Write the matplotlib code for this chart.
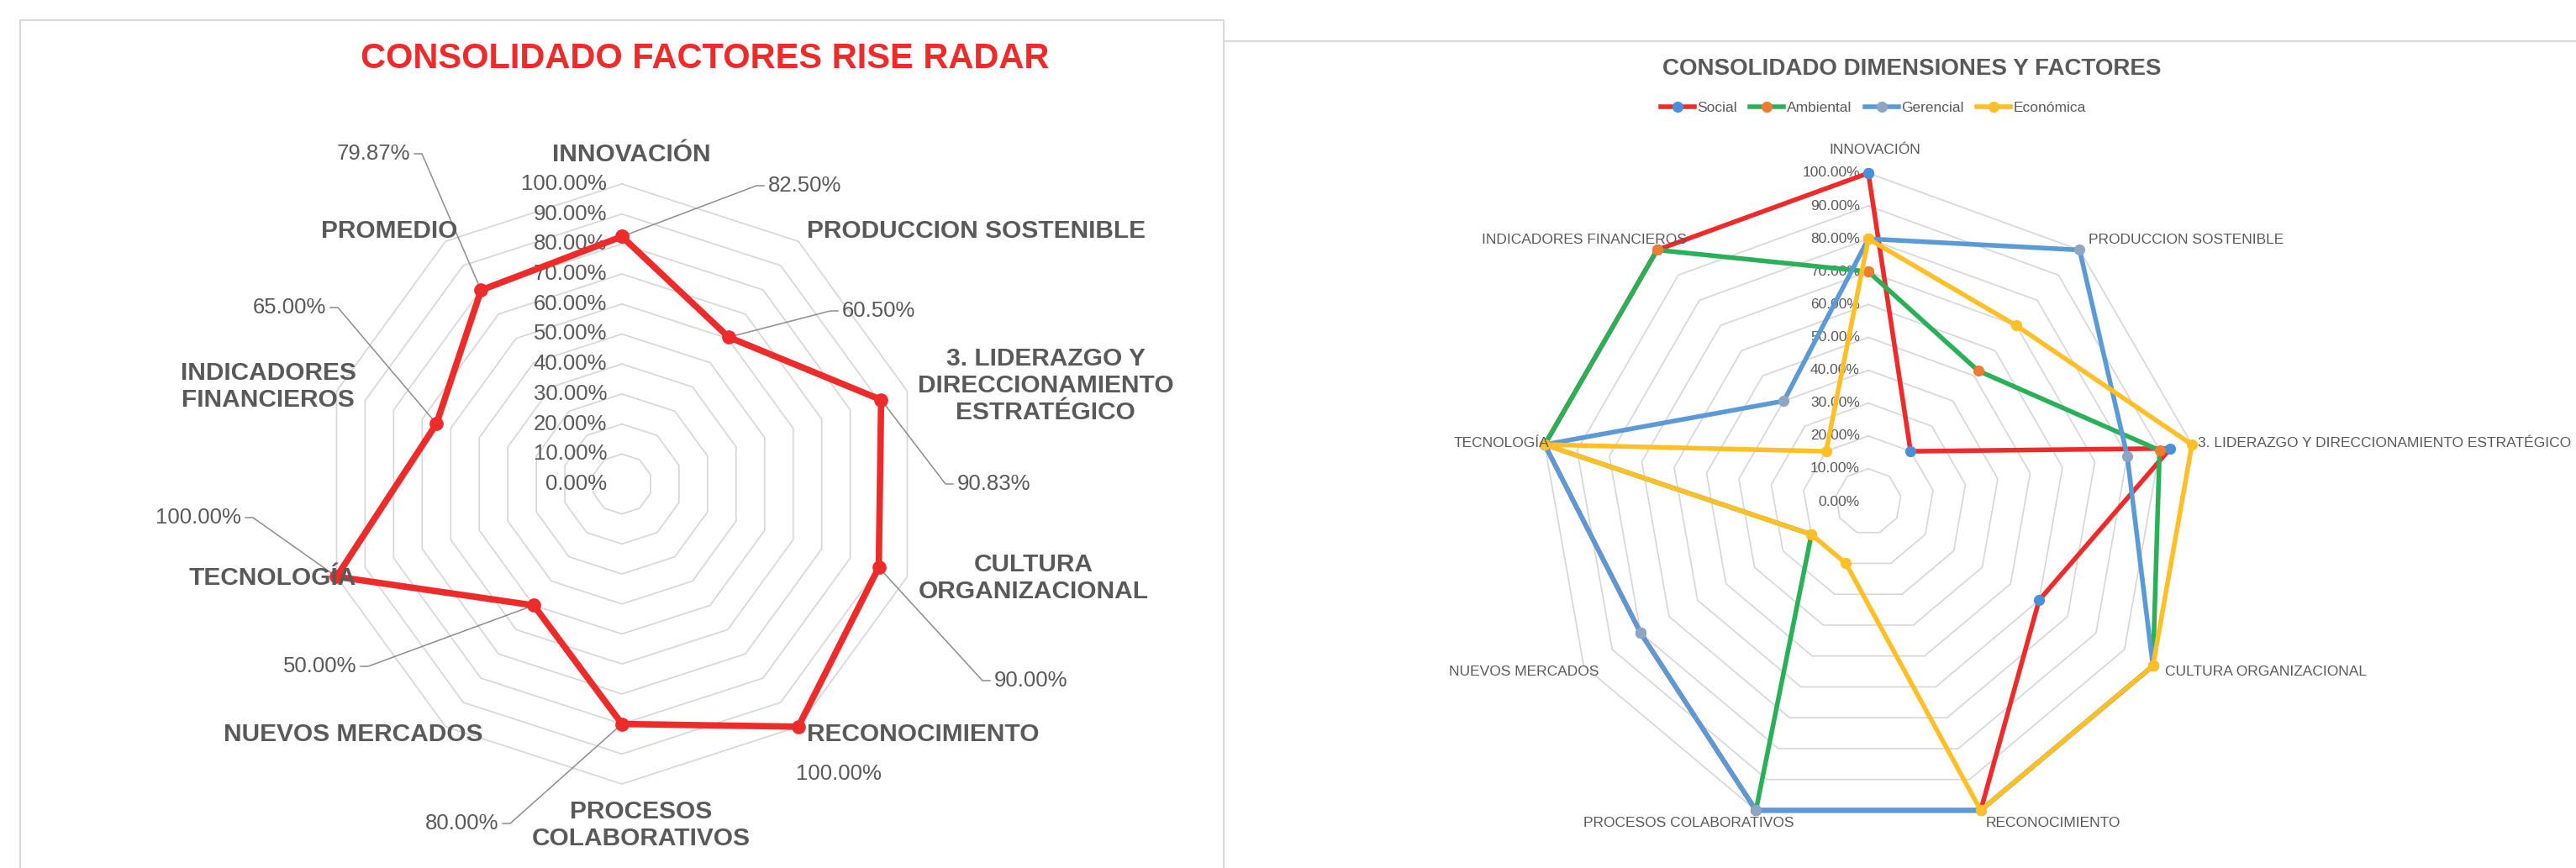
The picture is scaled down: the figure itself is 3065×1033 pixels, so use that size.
import numpy as np
import matplotlib
matplotlib.use('Agg')
import matplotlib.pyplot as plt
from matplotlib.patches import Rectangle
from matplotlib.lines import Line2D

plt.rcParams['font.family'] = ['Liberation Sans', 'DejaVu Sans']

W, H = 3065, 1033

# ---------------- data ----------------
left_cats = ['INNOVACIÓN', 'PRODUCCION SOSTENIBLE',
             '3. LIDERAZGO Y\nDIRECCIONAMIENTO\nESTRATÉGICO',
             'CULTURA\nORGANIZACIONAL', 'RECONOCIMIENTO',
             'PROCESOS\nCOLABORATIVOS', 'NUEVOS MERCADOS', 'TECNOLOGÍA',
             'INDICADORES\nFINANCIEROS', 'PROMEDIO']
left_values = [82.50, 60.50, 90.83, 90.00, 100.00, 80.00, 50.00, 100.00, 65.00, 79.87]

ring_ticks = [0, 10, 20, 30, 40, 50, 60, 70, 80, 90, 100]

right_cats = ['INNOVACIÓN', 'PRODUCCION SOSTENIBLE',
              '3. LIDERAZGO Y DIRECCIONAMIENTO ESTRATÉGICO',
              'CULTURA ORGANIZACIONAL', 'RECONOCIMIENTO',
              'PROCESOS COLABORATIVOS', 'NUEVOS MERCADOS', 'TECNOLOGÍA',
              'INDICADORES FINANCIEROS']
series_names = ['Social', 'Ambiental', 'Gerencial', 'Económica']
social    = [100, 20, 93.33, 60, 100, 100, 80, 100, 100]
ambiental = [70, 52, 90, 100, 100, 100, 20, 100, 100]
gerencial = [80, 100, 80, 100, 100, 100, 80, 100, 40]
economica = [80, 70, 100, 100, 100, 20, 20, 100, 20]

# ---------------- styles / layout (pixels) ----------------
TXT = '#595959'
GRID = '#d6d6d6'
RED = '#ee2b2b'
line_colors = ['#ee2b2b', '#2bb05a', '#5b9bd5', '#ffbf27']
marker_colors = ['#4a90d9', '#ed7d31', '#8fa5c4', '#ffbf27']

L_CX, L_CY, L_R = 740, 576, 357
R_CX, R_CY, R_R = 2223, 597, 391

left_label_pos = [(751, 184, 'center'), (960, 275, 'left'), (1244, 459, 'center'),
                  (1230, 688, 'center'), (960, 874, 'left'), (763, 982, 'center'),
                  (574, 874, 'right'), (424, 688, 'right'), (319, 460, 'center'),
                  (544, 275, 'right')]
# data label anchors: x, y, ha, draw leader?
left_dlabel_pos = [(914, 221, 'left', True), (1002, 370, 'left', True),
                   (1139, 576, 'left', True), (1183, 810, 'left', True),
                   (998, 921, 'center', False), (593, 980, 'right', True),
                   (424, 793, 'right', True), (287, 616, 'right', True),
                   (388, 366, 'right', True), (488, 183, 'right', True)]
right_label_pos = [(2231, 178, 'center'), (2485, 285, 'left'), (2615, 527, 'left'),
                   (2576, 800, 'left'), (2363, 980, 'left'), (2134, 980, 'right'),
                   (1902, 800, 'right'), (1843, 527, 'right'), (2007, 285, 'right')]

fig = plt.figure(figsize=(W / 100, H / 100), dpi=100)


def make_axes(cx, cy, R):
    ax = fig.add_axes([0, 0, 1, 1])
    ax.set_xlim(-cx / R, (W - cx) / R)
    ax.set_ylim(-(H - cy) / R, cy / R)
    ax.axis('off')
    ax.patch.set_alpha(0)
    return ax


def to_data(cx, cy, R, x, y):
    return (x - cx) / R, (cy - y) / R


def draw_rings(ax, n):
    th = np.pi / 2 - 2 * np.pi * np.arange(n + 1) / n
    for t in ring_ticks[1:]:
        r = t / 100
        ax.plot(r * np.cos(th), r * np.sin(th), color=GRID, lw=1.2, zorder=1)
    return th


# ---------------- frames ----------------
fig.add_artist(Rectangle((24 / W, -0.05), (1456 - 24) / W, 1.05 - 24 / H,
                         transform=fig.transFigure, fill=False,
                         edgecolor='#d9d9d9', lw=1.5))
fig.add_artist(Line2D([1456 / W, 1], [1 - 49 / H, 1 - 49 / H],
                      transform=fig.transFigure, color='#d9d9d9', lw=1.5))

# ---------------- left radar ----------------
axl = make_axes(L_CX, L_CY, L_R)
n = len(left_cats)
th = draw_rings(axl, n)
vals = np.array(left_values + left_values[:1]) / 100
axl.plot(vals * np.cos(th), vals * np.sin(th), color=RED, lw=5.5, zorder=3,
         marker='o', markersize=11, solid_joinstyle='round')

for t in ring_ticks:
    x, _ = to_data(L_CX, L_CY, L_R, 722, 0)
    axl.text(x, t / 100, f'{t:.2f}%', ha='right', va='center',
             fontsize=18.5, color=TXT, zorder=2)

for cat, (x, y, ha) in zip(left_cats, left_label_pos):
    dx, dy = to_data(L_CX, L_CY, L_R, x, y)
    axl.text(dx, dy, cat, ha=ha, va='center', multialignment='center',
             fontsize=21.5, fontweight='bold', color=TXT, linespacing=1.17, zorder=4)

for i, (v, (x, y, ha, leader)) in enumerate(zip(left_values, left_dlabel_pos)):
    dx, dy = to_data(L_CX, L_CY, L_R, x, y)
    axl.text(dx, dy, f'{v:.2f}%', ha=ha, va='center', fontsize=18.5,
             color=TXT, zorder=4)
    if leader:
        px_, py_ = v / 100 * np.cos(th[i]), v / 100 * np.sin(th[i])
        sgn = -1 if ha == 'left' else 1
        kx, ky = to_data(L_CX, L_CY, L_R, x + sgn * 14, y)
        ex, ey = to_data(L_CX, L_CY, L_R, x + sgn * 5, y)
        axl.plot([px_, kx, ex], [py_, ky, ey], color='#8c8c8c', lw=1.1, zorder=2)

tx, ty = to_data(L_CX, L_CY, L_R, 839, 70)
axl.text(tx, ty, 'CONSOLIDADO FACTORES RISE RADAR', ha='center', va='center',
         fontsize=30, fontweight='bold', color=RED)

# ---------------- right radar ----------------
axr = make_axes(R_CX, R_CY, R_R)
n = len(right_cats)
th = draw_rings(axr, n)
handles = []
for name, data, lc, mc in zip(series_names, [social, ambiental, gerencial, economica],
                              line_colors, marker_colors):
    v = np.array(data + data[:1]) / 100
    h, = axr.plot(v * np.cos(th), v * np.sin(th), color=lc, lw=4, zorder=3,
                  marker='o', markersize=8.5, markerfacecolor=mc,
                  markeredgecolor=mc, label=name)
    handles.append(h)

for t in ring_ticks:
    x, _ = to_data(R_CX, R_CY, R_R, 2213, 0)
    axr.text(x, t / 100, f'{t:.2f}%', ha='right', va='center',
             fontsize=12.5, color=TXT, zorder=2)

for cat, (x, y, ha) in zip(right_cats, right_label_pos):
    dx, dy = to_data(R_CX, R_CY, R_R, x, y)
    axr.text(dx, dy, cat, ha=ha, va='center', fontsize=12.5, color=TXT, zorder=4)

tx, ty = to_data(R_CX, R_CY, R_R, 2275, 82)
axr.text(tx, ty, 'CONSOLIDADO DIMENSIONES Y FACTORES', ha='center', va='center',
         fontsize=20, fontweight='bold', color=TXT)

leg = axr.legend(handles=handles, loc='center', ncol=4, frameon=False,
                 bbox_to_anchor=(2229 / W, 1 - 128.5 / H),
                 bbox_transform=fig.transFigure, fontsize=12.5,
                 handlelength=2.3, handletextpad=0.2, columnspacing=0.9)
for txt in leg.get_texts():
    txt.set_color(TXT)

fig.savefig('out.png', dpi=100, facecolor='white')
